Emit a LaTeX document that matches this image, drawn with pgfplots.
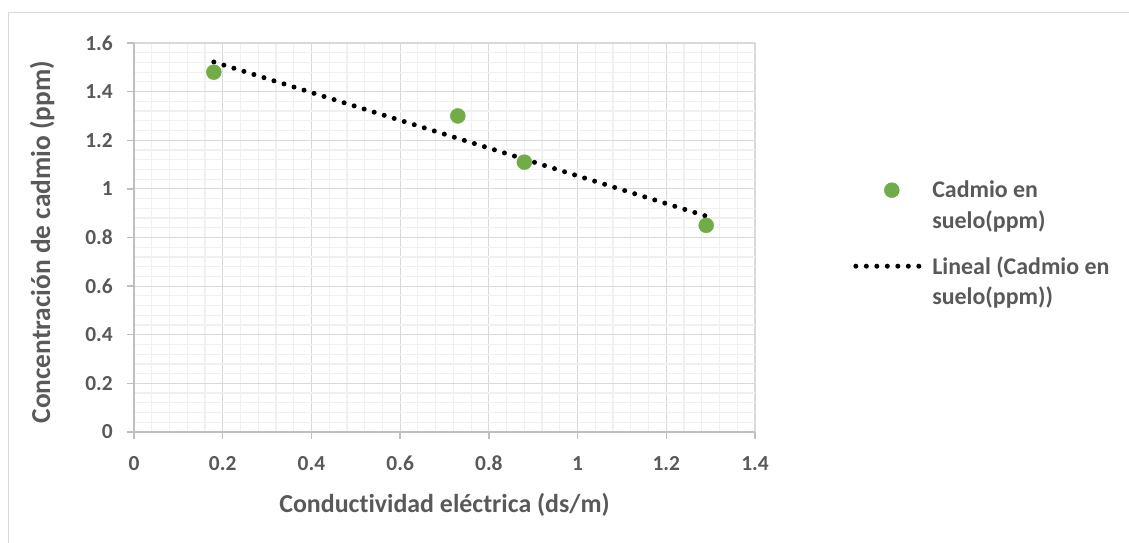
\documentclass[border=0pt]{standalone}
\usepackage{pgfplots}
\pgfplotsset{compat=1.18}
\usepackage{fontspec}
\setmainfont[Ligatures=NoCommon]{Carlito}
\definecolor{txt}{HTML}{595959}
\definecolor{axgray}{HTML}{BFBFBF}
\definecolor{gmaj}{HTML}{D9D9D9}
\definecolor{gmin}{HTML}{F0F0F0}
\definecolor{border}{HTML}{D9D9D9}
\definecolor{cgreen}{HTML}{70AD47}
\begin{document}
\begin{tikzpicture}
\useasboundingbox (0,0) rectangle (1129bp,543bp);
\draw[color=border, line width=1bp] (8bp,0) -- (8bp,530bp) -- (1129bp,530bp);
\begin{axis}[
  at={(134bp,111bp)}, anchor=south west,
  scale only axis, width=621bp, height=389bp,
  xmin=0, xmax=1.4, ymin=0, ymax=1.6,
  xtick={0,0.2,0.4,0.6,0.8,1,1.2,1.4},
  ytick={0,0.2,0.4,0.6,0.8,1,1.2,1.4,1.6},
  minor tick num=4,
  grid=both,
  major grid style={color=gmaj, line width=1.2bp},
  minor grid style={color=gmin, line width=1.2bp},
  axis lines*=left,
  axis line style={color=axgray, line width=1.3bp},
  tick style={color=axgray, line width=1.3bp},
  tick align=outside,
  major tick length=7bp, minor tick length=0pt,
  /pgf/number format/assume math mode=true,
  ticklabel style={font=\fontsize{21.5}{25}\selectfont\bfseries, text=txt},
  yticklabel style={inner sep=0pt, xshift=-14bp},
  xticklabel style={inner sep=0pt, yshift=-17bp},
  xlabel={Conductividad eléctrica (ds/m)},
  ylabel={Concentración de cadmio (ppm)},
  label style={text=txt},
  xlabel style={font=\fontsize{26}{30}\selectfont\bfseries, at={(axis description cs:0.5,0)}, anchor=center, yshift=-73bp},
  ylabel style={font=\fontsize{27.5}{30}\selectfont\bfseries, at={(axis description cs:-0.148,0.488)}, anchor=center},
  legend image code/.code={%
    \path[draw=none,fill=none] (0bp,-26bp) (72bp,26bp);
    \draw[mark repeat=2,mark phase=2,yshift=15bp,#1] plot coordinates {(0bp,0bp) (36bp,0bp) (72bp,0bp)};},
  legend cell align=left,
  legend style={draw=none, fill=none, inner sep=0pt,
    at={(axis description cs:1.158,0.6504)}, anchor=north west,
    row sep=24bp,
    /tikz/column 1/.style={column sep=2bp},
    nodes={inner sep=0pt, align=left, text=txt, font=\fontsize{24}{30.5}\selectfont\bfseries}},
]
\addplot[only marks, mark=*, mark size=7.5bp, color=cgreen] coordinates {
  (0.18,1.48) (0.73,1.30) (0.88,1.11) (1.29,0.85)
};
\addlegendentry{Cadmio en\\suelo(ppm)}
\addplot[color=black, line width=5bp, line cap=round, dash pattern=on 0pt off 10.5bp] coordinates {
  (0.18,1.522) (1.29,0.888)
};
\addlegendentry{Lineal (Cadmio en\\suelo(ppm))}
\end{axis}
\end{tikzpicture}
\end{document}
